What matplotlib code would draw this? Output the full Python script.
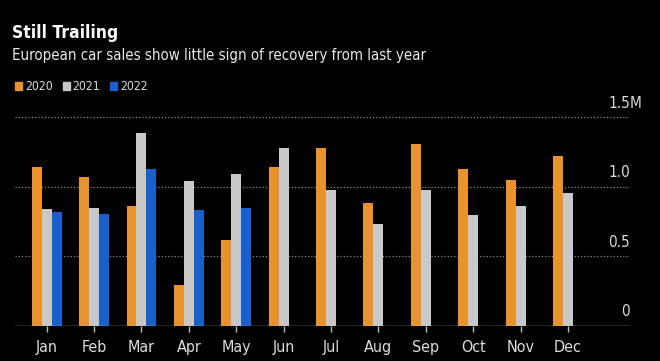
import matplotlib
matplotlib.use("Agg")
import matplotlib.pyplot as plt
import matplotlib.transforms as mtrans
import numpy as np

plt.rcParams['font.family'] = ['DejaVu Sans']
plt.rcParams['font.stretch'] = 'condensed'

months = ["Jan", "Feb", "Mar", "Apr", "May", "Jun", "Jul", "Aug", "Sep", "Oct", "Nov", "Dec"]
sales_2020 = [1.14, 1.07, 0.86, 0.29, 0.62, 1.14, 1.28, 0.885, 1.31, 1.13, 1.05, 1.22]
sales_2021 = [0.84, 0.85, 1.39, 1.04, 1.09, 1.28, 0.98, 0.73, 0.975, 0.80, 0.865, 0.955]
sales_2022 = [0.82, 0.805, 1.13, 0.83, 0.85]
series_names = ["2020", "2021", "2022"]
colors = ["#E8922E", "#C8C8C8", "#1A5FCC"]
yticks = [0, 0.5, 1.0, 1.5]
ytick_labels = ["0", "0.5", "1.0", "1.5M"]

W, H = 660, 361
fig = plt.figure(figsize=(W / 100, H / 100), dpi=100, facecolor="black")

ax_left, ax_right = 15, 630
y0, y15 = 325.7, 117.3
ax_bottom_px = y0
ax_top_px = y0 - (y0 - y15) * (1.6 / 1.5)
ax = fig.add_axes([ax_left / W, 1 - ax_bottom_px / H, (ax_right - ax_left) / W,
                   (ax_bottom_px - ax_top_px) / H])
ax.set_facecolor("black")

x = np.arange(len(months))
w = 0.21
ax.bar(x[:len(sales_2020)] - w, sales_2020, width=w, color=colors[0], align="center")
ax.bar(x[:len(sales_2021)], sales_2021, width=w, color=colors[1], align="center")
ax.bar(x[:len(sales_2022)] + w, sales_2022, width=w, color=colors[2], align="center")

ax.set_xlim(-0.668, 12.31)
ax.set_ylim(0, 1.6)

for yv in yticks[1:]:
    ax.axhline(yv, color="#8a8a8a", lw=0.9, ls=(0, (1, 1.6)), zorder=0)
ax.axhline(0, color="#bdbdbd", lw=1.0, zorder=3)

for s in ax.spines.values():
    s.set_visible(False)
ax.set_yticks([])
ax.set_xticks(x)
ax.set_xticklabels(months, fontsize=11.5)
ax.tick_params(axis="x", colors="#bdbdbd", length=4, width=1, pad=6,
               labelcolor="#dddddd")

trans = mtrans.blended_transform_factory(ax.transAxes, ax.transData)
for yv, lab in zip(yticks, ytick_labels):
    if lab.endswith("M"):
        ax.text(1.0, yv + 0.1, lab[:-1], transform=trans, ha="right", va="center",
                color="#dddddd", fontsize=11)
        ax.text(1.0, yv + 0.1, "M", transform=trans, ha="left", va="center",
                color="#dddddd", fontsize=11)
    else:
        ax.text(1.0, yv + 0.1, lab, transform=trans, ha="right", va="center",
                color="#dddddd", fontsize=11)

fig.text(12 / W, 1 - 37.7 / H, "Still Trailing", color="white", fontsize=12.5,
         fontweight="bold", ha="left", va="baseline")
fig.text(12 / W, 1 - 60 / H, "European car sales show little sign of recovery from last year",
         color="#e8e8e8", fontsize=10.8, ha="left", va="baseline")

lx = [15, 62.7, 110]
for i, (name, c) in enumerate(zip(series_names, colors)):
    fig.patches.append(plt.Rectangle((lx[i] / W, 1 - 89.5 / H), 7 / W, 7 / H,
                                     transform=fig.transFigure, color=c))
    fig.text((lx[i] + 10) / W, 1 - 86 / H, name, color="#dddddd", fontsize=8.7,
             ha="left", va="center")

fig.savefig("out.png", dpi=100, facecolor="black")
